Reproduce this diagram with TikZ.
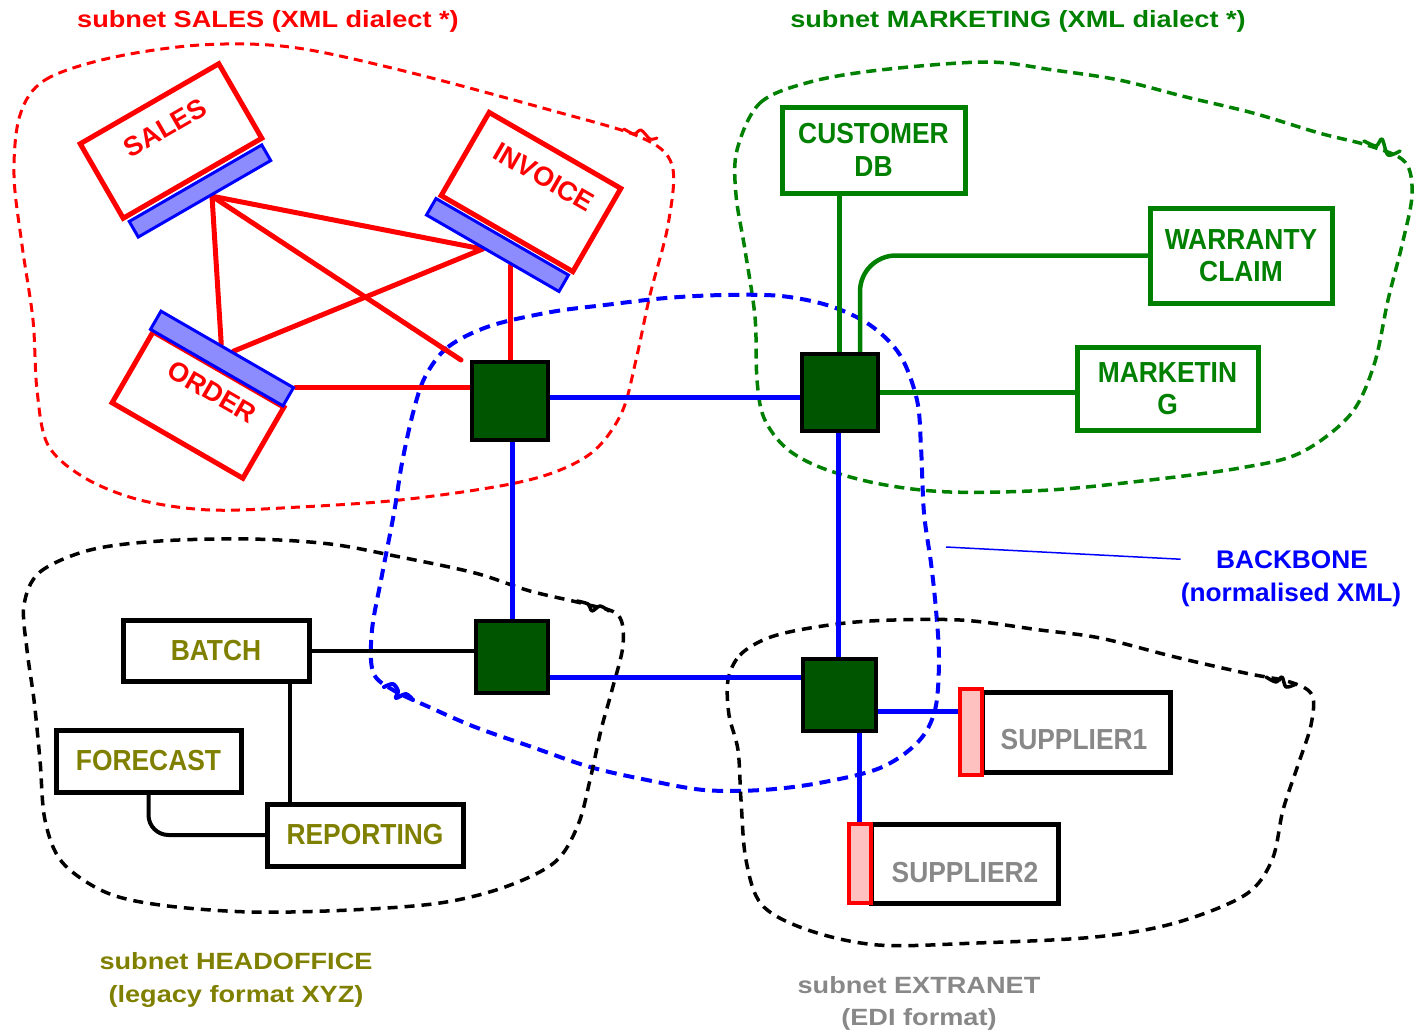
\documentclass[tikz,border=0pt]{standalone}
\usepackage{fontspec}
\setmainfont{Liberation Sans}
\newfontfamily\titlefont[FakeStretch=1.155]{Liberation Sans}
\newfontfamily\boxfont[FakeStretch=0.91]{Liberation Sans}
\newfontfamily\bbfont[FakeStretch=1.03]{Liberation Sans}
\usetikzlibrary{calc}

\definecolor{netred}{RGB}{255,0,0}
\definecolor{netgreen}{RGB}{0,128,0}
\definecolor{hubgreen}{RGB}{0,85,0}
\definecolor{netblue}{RGB}{0,0,255}
\definecolor{barblue}{RGB}{140,140,255}
\definecolor{olive}{RGB}{128,128,0}
\definecolor{extgray}{RGB}{136,136,136}
\definecolor{tabpink}{RGB}{255,192,192}

\pgfdeclarelayer{blobs}
\pgfdeclarelayer{wires}
\pgfsetlayers{blobs,wires,main}

\tikzset{
  hub/.style={draw=black, fill=hubgreen, line width=4pt, inner sep=0pt},
  appbox/.style={draw, line width=5pt, inner sep=0pt, fill=white,
    font=\boxfont\bfseries\fontsize{29}{32.5}\selectfont, align=center},
  boxtext/.style={inner sep=0pt, font=\boxfont\bfseries\fontsize{29}{32.5}\selectfont},
  tiltbox/.style={draw=netred, line width=5pt, inner sep=0pt, fill=white},
  tiltbar/.style={draw=netblue, fill=barblue, line width=3pt, inner sep=0pt, minimum width=153pt},
  tiltlabel/.style={text=netred, inner sep=0pt, font=\bfseries\fontsize{27}{30}\selectfont},
  tab/.style={draw=netred, fill=tabpink, line width=4pt, inner sep=0pt, minimum width=22pt},
  wire/.style={line width=5pt, line cap=round},
  title/.style={inner sep=0pt, anchor=base, font=\titlefont\bfseries\fontsize{23.5}{32}\selectfont},
  bbtext/.style={inner sep=0pt, anchor=base, text=netblue, font=\bbfont\bfseries\fontsize{25.5}{32}\selectfont},
  blobred/.style={draw=netred, line width=3pt, dash pattern=on 9pt off 6pt},
  blobgreen/.style={draw=netgreen, line width=3.5pt, dash pattern=on 10pt off 6pt},
  blobblue/.style={draw=netblue, line width=4pt, dash pattern=on 11pt off 7pt},
  blobblack/.style={draw=black, line width=3.5pt, dash pattern=on 10pt off 7pt},
  knot/.style={line width=3.5pt, line cap=round, line join=round},
}

\begin{document}
\begin{tikzpicture}[x=1pt,y=-1pt]
\useasboundingbox (0,0) rectangle (1416,1033);

% ---- subnet outlines (freehand, with the small knot where each stroke closes) ----
\begin{pgfonlayer}{blobs}
\draw[blobred] plot[smooth cycle, tension=0.55] coordinates {
  (20,115) (45,80) (110,58) (200,45) (290,47) (400,70) (550,110) (640,137)
  (672,165) (668,225) (650,295) (636,360) (622,412) (595,450) (555,472)
  (500,486) (400,500) (300,507) (210,510) (140,500) (85,478) (48,445)
  (37,390) (33,320) (22,245) (14,175)};
\draw[knot, netred, line width=3pt] plot[smooth] coordinates {(624,129) (634,134) (641,130) (650,139) (657,138)};
\draw[blobgreen] plot[smooth cycle, tension=0.55] coordinates {
  (737,150) (760,103) (810,82) (880,70) (986,62) (1053,70) (1119,80) (1186,97)
  (1253,113) (1319,133) (1370,146) (1405,162) (1412,195) (1402,245)
  (1388,300) (1374,365) (1350,415) (1300,453) (1240,468) (1150,480)
  (1050,490) (950,492) (880,484) (822,468) (786,448) (764,418) (757,380)
  (755,317) (745,250) (736,195)};
\draw[knot, netgreen] plot[smooth] coordinates {(1364,141) (1376,146) (1382,139) (1388,155) (1400,151)};
\draw[blobblue] plot[smooth cycle, tension=0.55] coordinates {
  (425,377) (448,347) (490,326) (551,312) (605,305) (666,298) (724,295)
  (781,296) (830,306) (870,325) (900,355) (917,400) (921,447) (924,513)
  (931,563) (936,610) (939,660) (935,710) (918,742) (880,768) (819,783)
  (762,790) (704,790) (647,780) (590,767) (532,747) (475,727) (429,707)
  (393,690) (373,672) (372,630) (382,575) (394,513) (402,463) (413,413)};
\draw[knot, netblue, line width=4pt] plot[smooth] coordinates {(384,687) (393,684) (398,691) (396,698) (406,694) (413,700)};
\draw[blobblack] plot[smooth cycle, tension=0.55] coordinates {
  (24,605) (40,572) (90,550) (160,541) (250,539) (330,544) (400,557)
  (475,573) (530,591) (585,604) (618,615) (623,645) (612,690) (601,730)
  (590,780) (578,825) (555,862) (505,887) (440,903) (350,910) (250,912)
  (160,905) (105,892) (62,862) (45,820) (40,760) (34,700) (27,650)};
\draw[knot, black] plot[smooth] coordinates {(577,601) (588,604) (592,611) (600,606) (609,611)};
\draw[blobblack] plot[smooth cycle, tension=0.55] coordinates {
  (728,680) (740,655) (768,638) (810,628) (870,621) (960,620) (1040,630)
  (1100,638) (1175,657) (1245,673) (1290,682) (1312,695) (1311,725)
  (1298,765) (1283,810) (1272,860) (1245,895) (1175,923) (1095,937)
  (977,943) (878,945) (808,930) (762,905) (746,860) (741,800) (738,750)
  (729,715)};
\draw[knot, black] plot[smooth] coordinates {(1266,677) (1276,682) (1282,677) (1286,687) (1296,684)};
\end{pgfonlayer}

% ---- backbone hubs ----
\node[hub, minimum width=76pt, minimum height=78pt] (h1) at (510,401) {};
\node[hub, minimum width=76pt, minimum height=77pt] (h2) at (840,392.5) {};
\node[hub, minimum width=72pt, minimum height=72pt] (h3) at (512,657) {};
\node[hub, minimum width=73pt, minimum height=72pt] (h4) at (839.5,694.5) {};

% ---- SALES subnet: tilted applications with their adapters ----
\node[tiltbox, rotate=30, minimum width=160pt, minimum height=86pt] (sales) at (171,141) {};
\node[tiltbar, rotate=30, minimum height=18pt] (salesbar) at (200,191) {};
\node[tiltlabel, rotate=30] (saleslbl) at (165,128) {SALES};

\node[tiltbox, rotate=-30, minimum width=152pt, minimum height=96pt] (invoice) at (531,192) {};
\node[tiltbar, rotate=-30, minimum height=19pt] (invbar) at (497.5,245) {};
\node[tiltlabel, rotate=-30] (invlbl) at (544,177) {INVOICE};

\node[tiltbox, rotate=-30, minimum width=151pt, minimum height=82pt] (order) at (198,405) {};
\node[tiltbar, rotate=-30, minimum height=21pt] (orderbar) at (222,358.5) {};
\node[tiltlabel, rotate=-30] (orderlbl) at (212,392) {ORDER};

% ---- MARKETING subnet ----
\node[appbox, draw=netgreen, text=netgreen, minimum width=183pt, minimum height=86pt] (cust) at (873.5,150) {CUSTOMER\\DB};
\node[appbox, draw=netgreen, text=netgreen, minimum width=182pt, minimum height=95pt] (warr) at (1241,255.5) {WARRANTY\\CLAIM};
\node[appbox, draw=netgreen, text=netgreen, minimum width=181pt, minimum height=83pt] (mkt) at (1167.5,388.5) {MARKETIN\\G};

% ---- HEADOFFICE subnet ----
\node[appbox, draw=black, text=olive, minimum width=186pt, minimum height=61pt] (batch) at (216,650.5) {BATCH};
\node[appbox, draw=black, text=olive, minimum width=185pt, minimum height=62pt] (fore) at (148.5,761) {FORECAST};
\node[appbox, draw=black, text=olive, minimum width=196pt, minimum height=62pt] (rep) at (365,835) {REPORTING};

% ---- EXTRANET subnet ----
\node[appbox, draw=black, minimum width=188pt, minimum height=80pt] (sup1) at (1076,732) {};
\node[tab, minimum height=86pt] (s1tab) at (970.5,732) {};
\node[boxtext, text=extgray] (sup1lbl) at (1074,740) {SUPPLIER1};
\node[appbox, draw=black, minimum width=187pt, minimum height=79pt] (sup2) at (964.5,863.5) {};
\node[tab, minimum height=79pt] (s2tab) at (860,863.5) {};
\node[boxtext, text=extgray] (sup2lbl) at (965,873) {SUPPLIER2};

% ---- captions ----
\node[title, text=netred] (capsales) at (268,28) {subnet SALES (XML dialect *)};
\node[title, text=netgreen] (capmkt) at (1018,28) {subnet MARKETING (XML dialect *)};
\node[title, text=olive] (caphq1) at (236,969) {subnet HEADOFFICE};
\node[title, text=olive] (caphq2) at (236,1002) {(legacy format XYZ)};
\node[title, text=extgray] (capext1) at (919,993) {subnet EXTRANET};
\node[title, text=extgray] (capext2) at (919,1025) {(EDI format)};
\node[bbtext] (bb1) at (1292,568) {BACKBONE};
\node[bbtext] (bb2) at (1291,601) {(normalised XML)};

% ---- connectors ----
\begin{pgfonlayer}{wires}
  % sales subnet links
  \coordinate (sa) at ($(salesbar.south west)!0.55!(salesbar.south east)$);
  \coordinate (ia) at ($(invbar.south west)!0.43!(invbar.south east)$);
  \coordinate (ib) at ($(invbar.south west)!0.64!(invbar.south east)$);
  \coordinate (oa) at ($(orderbar.north west)!0.45!(orderbar.north east)$);
  \coordinate (ob) at ($(orderbar.north west)!0.54!(orderbar.north east)$);
  \draw[wire, netred] (sa) -- (ia);
  \draw[wire, netred] (sa) -- (oa);
  \draw[wire, netred] (sa) -- ([xshift=-9pt]h1.north west);
  \draw[wire, netred] (ia) -- (ob);
  \draw[wire, netred] (ib) -- (ib |- h1.north);
  \draw[wire, netred] (orderbar.north east) -- (orderbar.north east -| h1.west);

  % backbone
  \draw[wire, netblue] ([yshift=4pt]h1.east) -- ([yshift=4pt]h1.east -| h2.west);
  \draw[wire, netblue] (h3.north |- h1.south) -- (h3.north);
  \draw[wire, netblue] ([xshift=-1.5pt]h4.north |- h2.south) -- ([xshift=-1.5pt]h4.north);
  \draw[wire, netblue] ([yshift=-20pt]h3.east) -- ([yshift=-20pt]h3.east -| h4.west);
  \draw[wire, netblue] ([yshift=-16.5pt]h4.east) -- ([yshift=-16.5pt]h4.east -| s1tab.west);
  \draw[wire, netblue] ([xshift=19.5pt]h4.south) -- ([xshift=19.5pt]h4.south |- s2tab.north);

  % marketing subnet links
  \coordinate (ca) at ($(cust.south west)!0.32!(cust.south east)$);
  \coordinate (hw) at ($(h2.north west)!0.75!(h2.north east)$);
  \draw[wire, netgreen, line width=4.5pt] (ca) -- (ca |- h2.north);
  \draw[wire, netgreen, line width=4.5pt, rounded corners=36pt] (warr.west) -| (hw);
  \draw[wire, netgreen, line width=4.5pt] (h2.east) -- (h2.east -| mkt.west);

  % headoffice links
  \coordinate (bs) at ($(batch.south west)!0.89!(batch.south east)$);
  \draw[wire, black, line width=4pt] (batch.east) -- (batch.east -| h3.west);
  \draw[wire, black, line width=4pt] (bs) -- (bs |- rep.north);
  \draw[wire, black, line width=4pt, rounded corners=20pt] (fore.south) |- (rep.west);

  % backbone caption leader
  \coordinate (lead) at (946,547);
  \draw[netblue, line width=1.5pt] (lead) -- (bb1.west -| bb2.west);
\end{pgfonlayer}
\end{tikzpicture}
\end{document}
